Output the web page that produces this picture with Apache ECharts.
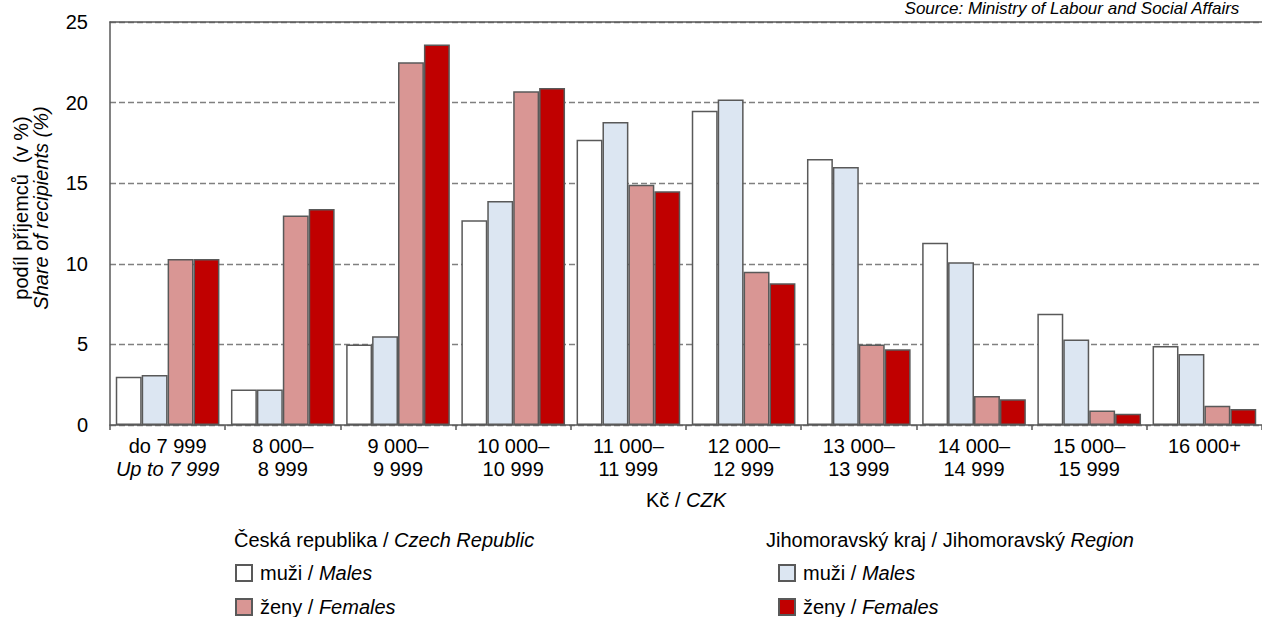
<!DOCTYPE html>
<html>
<head>
<meta charset="utf-8">
<script src="https://cdn.jsdelivr.net/npm/echarts@6/dist/echarts.min.js"></script>
<style>
  html, body { margin: 0; padding: 0; background: #fff; }
  #chart { width: 1262px; height: 617px; }
</style>
</head>
<body>
<div id="chart"></div>
<script>
// pásma mezd (dva řádky popisku)
const bandLine1 = ['do 7 999', '8 000–', '9 000–', '10 000–', '11 000–', '12 000–', '13 000–', '14 000–', '15 000–', '16 000+'];
const bandLine2 = ['Up to 7 999', '8 999', '9 999', '10 999', '11 999', '12 999', '13 999', '14 999', '15 999', ''];

// podíl příjemců v %
const czMales = [3.0, 2.2, 5.0, 12.7, 17.7, 19.5, 16.5, 11.3, 6.9, 4.9];
const jmkMales = [3.1, 2.2, 5.5, 13.9, 18.8, 20.2, 16.0, 10.1, 5.3, 4.4];
const czFemales = [10.3, 13.0, 22.5, 20.7, 14.9, 9.5, 5.0, 1.8, 0.9, 1.2];
const jmkFemales = [10.3, 13.4, 23.6, 20.9, 14.5, 8.8, 4.7, 1.6, 0.7, 1.0];

const yTicks = [0, 5, 10, 15, 20, 25];

const FONT = '"Liberation Sans", Arial, sans-serif';
const BORDER = '#595959';
const FS = 20;

const chart = echarts.init(document.getElementById('chart'), null, { renderer: 'svg' });

const normal = { fontFamily: FONT, fontSize: FS, color: '#000' };
const italic = { fontFamily: FONT, fontSize: FS, fontStyle: 'italic', color: '#000' };

const legendNames = {
  'cz-m': '{n|muži / }{i|Males}',
  'cz-f': '{n|ženy / }{i|Females}',
  'jmk-m': '{n|muži / }{i|Males}',
  'jmk-f': '{n|ženy / }{i|Females}'
};

// jedna legenda = jedna položka, ať se nic nezalamuje
const legendItem = (name, left, top) => ({
  data: [name],
  left: left,
  top: top,
  padding: 0,
  icon: 'rect',
  itemWidth: 16,
  itemHeight: 16,
  itemGap: 0,
  formatter: n => legendNames[n],
  textStyle: { rich: { n: normal, i: italic }, padding: [0, 0, 0, 3] },
  selectedMode: false
});

const barSeries = (id, data, color) => ({
  name: id,
  type: 'bar',
  data: data,
  barGap: 0,
  barCategoryGap: '10%',
  itemStyle: { color: color, borderColor: BORDER, borderWidth: 1.5 },
  emphasis: { disabled: true }
});

const option = {
  animation: false,
  backgroundColor: '#fff',
  textStyle: { fontFamily: FONT },
  grid: { left: 110, right: 0, top: 22, bottom: 192 },
  xAxis: [
    {
      type: 'category',
      data: bandLine1.map((t, i) => i),
      axisLine: { lineStyle: { color: BORDER, width: 1.5 } },
      axisTick: { show: true, length: 5, lineStyle: { color: BORDER, width: 1.5 } },
      axisLabel: {
        margin: 9,
        interval: 0,
        formatter: (v, i) => i === 0
          ? '{a|' + bandLine1[i] + '}\n{i|' + bandLine2[i] + '}'
          : '{a|' + bandLine1[i] + '}\n{a|' + bandLine2[i] + '}',
        rich: {
          a: Object.assign({ lineHeight: 23 }, normal),
          i: Object.assign({ lineHeight: 23 }, italic)
        }
      },
      name: '{a|Kč / }{i|CZK}',
      nameLocation: 'middle',
      nameGap: 65,
      nameTextStyle: { rich: { a: normal, i: italic } }
    },
    {
      type: 'category',
      position: 'top',
      data: bandLine1.map((t, i) => i),
      axisLine: { show: true, lineStyle: { color: BORDER, width: 1.5 } },
      axisTick: { show: false },
      axisLabel: { show: false }
    }
  ],
  yAxis: {
    type: 'value',
    min: yTicks[0],
    max: yTicks[yTicks.length - 1],
    interval: 5,
    axisLine: { show: true, lineStyle: { color: BORDER, width: 1.5 } },
    axisTick: { show: false },
    axisLabel: { margin: 22, fontFamily: FONT, fontSize: FS, color: '#000' },
    splitLine: { lineStyle: { color: '#808080', type: [6, 3], width: 1.3 } }
  },
  legend: [
    legendItem('cz-m', 235, 563),
    legendItem('cz-f', 235, 597),
    legendItem('jmk-m', 778, 563),
    legendItem('jmk-f', 778, 597)
  ],
  graphic: [
    {
      type: 'text', left: 234, top: 530,
      style: {
        text: '{n|Česká republika / }{i|Czech Republic}',
        rich: { n: normal, i: italic }
      }
    },
    {
      type: 'text', left: 766, top: 530,
      style: {
        text: '{n|Jihomoravský kraj / Jihomoravský }{i|Region}',
        rich: { n: normal, i: italic }
      }
    },
    {
      type: 'text', right: 22, top: 0,
      style: { text: 'Source: Ministry of Labour and Social Affairs', font: 'italic 17px ' + FONT, fill: '#000' }
    },
    {
      type: 'text', x: 21, y: 208, rotation: Math.PI / 2,
      style: {
        text: 'podíl příjemců  (v %)', font: FS + 'px ' + FONT, fill: '#000',
        align: 'center', verticalAlign: 'middle', textAlign: 'center', textVerticalAlign: 'middle'
      }
    },
    {
      type: 'text', x: 41, y: 208, rotation: Math.PI / 2,
      style: {
        text: 'Share of recipients (%)', font: 'italic ' + FS + 'px ' + FONT, fill: '#000',
        align: 'center', verticalAlign: 'middle', textAlign: 'center', textVerticalAlign: 'middle'
      }
    }
  ],
  series: [
    barSeries('cz-m', czMales, '#ffffff'),
    barSeries('jmk-m', jmkMales, '#dce6f2'),
    barSeries('cz-f', czFemales, '#d99694'),
    barSeries('jmk-f', jmkFemales, '#c00000')
  ]
};

chart.setOption(option);
</script>
</body>
</html>
